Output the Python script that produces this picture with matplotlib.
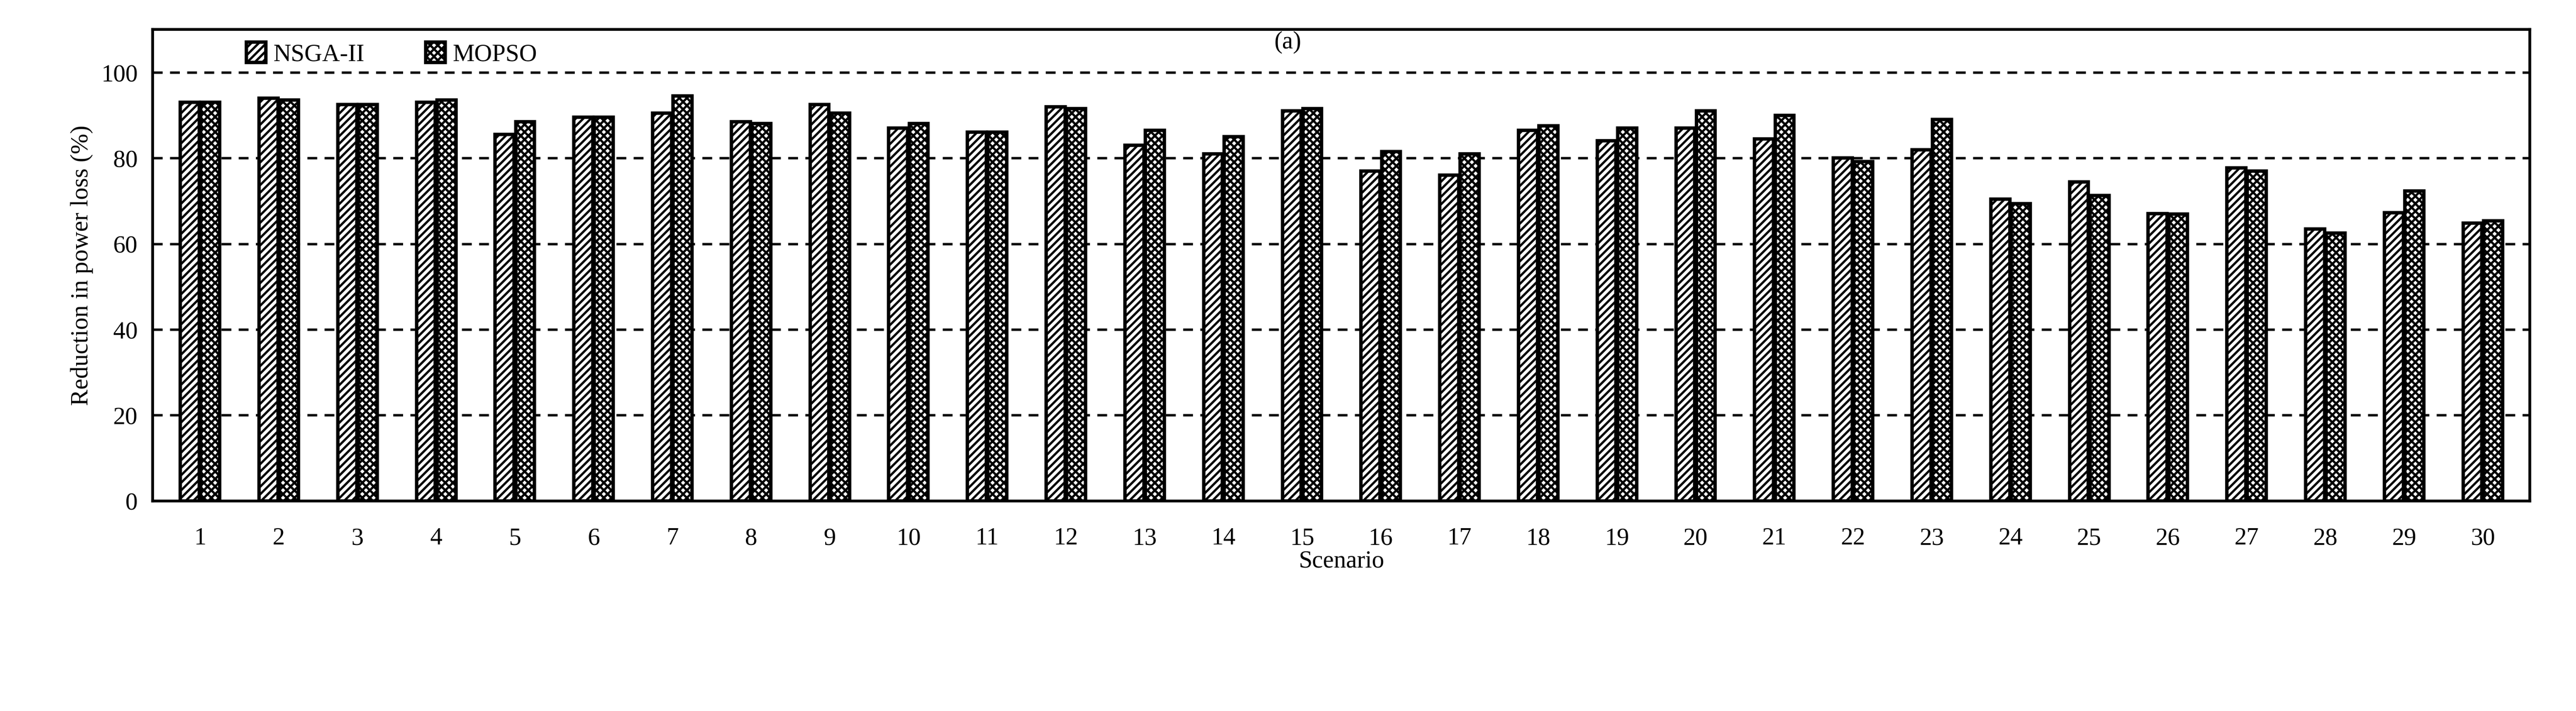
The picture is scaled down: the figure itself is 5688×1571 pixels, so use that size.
import matplotlib
matplotlib.use("Agg")
import matplotlib.pyplot as plt
import numpy as np

scenarios = list(range(1, 31))
nsga = [93, 94, 92.5, 93, 85.5, 89.5, 90.5, 88.5, 92.5, 87, 86, 92, 83, 81, 91,
        77, 76, 86.5, 84, 87, 84.5, 80, 81.9, 70.4, 74.4, 67, 77.7, 63.4, 67.2, 64.8]
mopso = [93, 93.5, 92.5, 93.5, 88.5, 89.5, 94.5, 88, 90.5, 88, 86, 91.5, 86.5, 85, 91.5,
         81.5, 81, 87.5, 87, 91, 89.9, 79.2, 89, 69.4, 71.3, 66.9, 77, 62.5, 72.3, 65.3]

plt.rcParams['font.family'] = ['Liberation Serif', 'DejaVu Serif']
plt.rcParams['hatch.linewidth'] = 1.2

fig = plt.figure(figsize=(18.96, 5.237), dpi=300)
ax = fig.add_axes([93/1568, 1-305/433, (1540-93)/1568, (305-18)/433])

x = np.arange(len(scenarios))
w = 0.24
ax.bar(x - w/2 - 0.01, nsga, w, facecolor='white', edgecolor='black', hatch='//////',
       linewidth=1.8, label='NSGA-II', zorder=3)
ax.bar(x + w/2 + 0.01, mopso, w, facecolor='white', edgecolor='black', hatch='xxxxxx',
       linewidth=1.8, label='MOPSO', zorder=3)

ax.set_xlim(-0.6, len(scenarios) - 0.4)
ax.set_ylim(0, 110)
ax.set_yticks([0, 20, 40, 60, 80, 100])
ax.set_xticks(x)
ax.set_xticklabels([str(s) for s in scenarios])
ax.yaxis.grid(True, linestyle=(0, (4, 3)), color='black', linewidth=1.3, zorder=0)
ax.tick_params(axis='both', length=0, labelsize=13, pad=8)
ax.tick_params(axis='x', pad=14)
for s in ax.spines.values():
    s.set_linewidth(1.5)
ax.set_xlabel('Scenario', fontsize=13, labelpad=0)
ax.set_ylabel('Reduction in power loss (%)', fontsize=13)
ax.legend(loc='upper left', bbox_to_anchor=(0.03, 1.02), ncol=2, frameon=False,
          fontsize=13, handlelength=0.8, handleheight=0.9, columnspacing=2.5, handletextpad=0.3)
fig.text(0.5, 407/433, '(a)', ha='center', va='center', fontsize=13)
fig.texts[-1].set_text('(a)')
fig.savefig('out.png', dpi=300)
